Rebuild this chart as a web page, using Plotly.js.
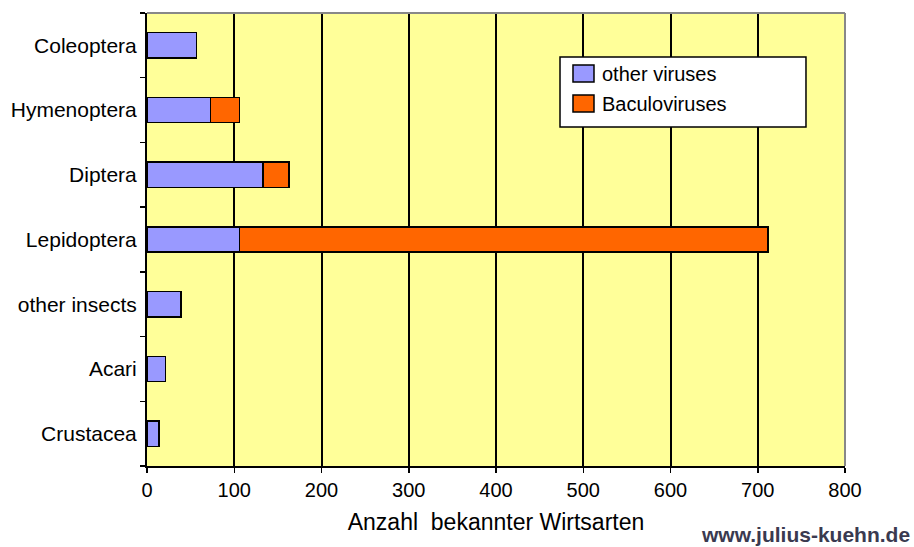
<!DOCTYPE html>
<html>
<head>
<meta charset="utf-8">
<script src="https://cdn.plot.ly/plotly-3.0.1.min.js"></script>
<style>html,body{margin:0;padding:0;background:#fff;}#chart{width:914px;height:547px;}</style>
</head>
<body>
<div id="chart"></div>
<script>
const categories = ["Coleoptera", "Hymenoptera", "Diptera", "Lepidoptera", "other insects", "Acari", "Crustacea"];
const otherViruses = [57, 73, 133, 106, 39, 21, 14];
const baculoviruses = [0, 33, 30, 606, 0, 0, 0];
const xTicks = [0, 100, 200, 300, 400, 500, 600, 700, 800];
const seriesNames = ["other viruses", "Baculoviruses"];
const seriesColors = ["#9999FF", "#FF6600"];

const fam = "Liberation Sans, Arial, sans-serif";

const traces = [
  {type: "bar", orientation: "h", name: seriesNames[0], y: categories, x: otherViruses,
   marker: {color: seriesColors[0], line: {color: "#000", width: 1.5}}},
  {type: "bar", orientation: "h", name: seriesNames[1], y: categories, x: baculoviruses,
   marker: {color: seriesColors[1], line: {color: "#000", width: 1.5}}}
];

// manual legend (box, swatches, labels) in paper coordinates
const legendShapes = [
  {type: "rect", xref: "paper", yref: "paper", x0: 0.5917, x1: 0.9441, y0: 0.7483, y1: 0.9029,
   fillcolor: "#fff", line: {color: "#000", width: 1.5}},
  {type: "rect", xref: "paper", yref: "paper", x0: 0.6103, x1: 0.6404, y0: 0.8477, y1: 0.8852,
   fillcolor: seriesColors[0], line: {color: "#000", width: 1.5}},
  {type: "rect", xref: "paper", yref: "paper", x0: 0.6103, x1: 0.6404, y0: 0.7815, y1: 0.8190,
   fillcolor: seriesColors[1], line: {color: "#000", width: 1.5}}
];
const legendTexts = [
  {text: seriesNames[0], xref: "paper", yref: "paper", x: 0.6490, y: 0.8664, xanchor: "left", yanchor: "middle",
   showarrow: false, font: {family: fam, size: 20, color: "#000"}},
  {text: seriesNames[1], xref: "paper", yref: "paper", x: 0.6490, y: 0.8002, xanchor: "left", yanchor: "middle",
   showarrow: false, font: {family: fam, size: 20, color: "#000"}}
];

const layout = {
  width: 914, height: 547,
  margin: {l: 147, r: 69, t: 13, b: 81},
  paper_bgcolor: "#fff", plot_bgcolor: "#FFFF99",
  barmode: "stack", bargap: 0.61,
  font: {family: fam, size: 20, color: "#000"},
  showlegend: false,
  xaxis: {range: [0, 800], tickvals: xTicks, ticktext: xTicks.map(String),
          showgrid: true, gridcolor: "#000", gridwidth: 2, zeroline: false,
          showline: true, linecolor: "#000", linewidth: 2,
          ticks: "outside", ticklen: 5, tickcolor: "#000", tickwidth: 1.5,
          tickfont: {family: fam, size: 20, color: "#000"},
          title: {text: "Anzahl  bekannter Wirtsarten", standoff: 14,
                  font: {family: fam, size: 23, color: "#000"}}},
  yaxis: {type: "category", categoryorder: "array", categoryarray: categories.slice().reverse(),
          showgrid: false, zeroline: false, showline: true, linecolor: "#000", linewidth: 2,
          ticks: "outside", tickson: "boundaries", ticklen: 5, tickcolor: "#000", tickwidth: 1.5,
          ticklabelstandoff: 4,
          tickfont: {family: fam, size: 21, color: "#000"}},
  shapes: [
    {type: "line", xref: "paper", yref: "paper", x0: 0, x1: 1, y0: 1, y1: 1, line: {color: "#888", width: 2}},
    {type: "line", xref: "paper", yref: "paper", x0: 1, x1: 1, y0: 0, y1: 1, line: {color: "#888", width: 2}}
  ].concat(legendShapes),
  annotations: [
    {text: "<b>www.julius-kuehn.de</b>", xref: "paper", yref: "paper", x: 1.096, y: -0.1523,
     xanchor: "right", yanchor: "middle", showarrow: false,
     font: {family: fam, size: 21, color: "#3a3a50"}}
  ].concat(legendTexts)
};

Plotly.newPlot("chart", traces, layout, {displayModeBar: false, staticPlot: true});
</script>
</body>
</html>
